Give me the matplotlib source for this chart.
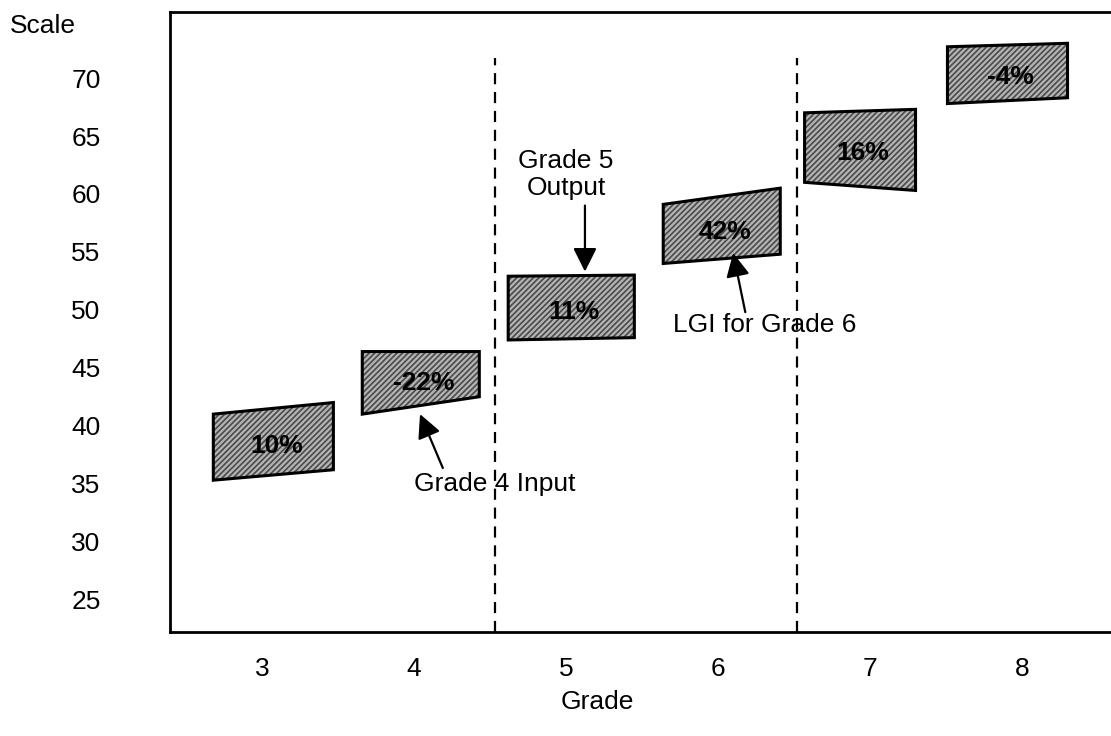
import matplotlib
matplotlib.use('Agg')
import matplotlib.pyplot as plt
from matplotlib.patches import Polygon

plt.rcParams['font.family'] = ['Liberation Sans', 'DejaVu Sans']
plt.rcParams['hatch.linewidth'] = 1.2

# value-added boxes: one per grade, corners on the left and right edges
grades = [3, 4, 5, 6, 7, 8]
x_left = [2.68, 3.66, 4.62, 5.64, 6.57, 7.51]
x_right = [3.47, 4.43, 5.45, 6.41, 7.30, 8.30]
left_low = [35.3, 41.0, 47.4, 54.0, 61.0, 67.8]
left_high = [41.0, 46.4, 52.9, 59.1, 67.0, 72.7]
right_low = [36.2, 42.5, 47.6, 54.8, 60.3, 68.3]
right_high = [42.0, 46.4, 53.0, 60.5, 67.3, 73.0]
growth = ['10%', '-22%', '11%', '42%', '16%', '-4%']

y_ticks = [25, 30, 35, 40, 45, 50, 55, 60, 65, 70]
dividers = [4.53, 6.52]
divider_top = 71.7

fig = plt.figure(figsize=(11.11, 7.36), dpi=100)
ax = fig.add_axes([170 / 1111, 1 - 632 / 736, 1 - 170 / 1111, (632 - 12) / 736])
ax.set_xlim(2.395, 8.586)
ax.set_ylim(22.2, 75.7)

for i in range(len(grades)):
    pts = [(x_left[i], left_low[i]), (x_left[i], left_high[i]),
           (x_right[i], right_high[i]), (x_right[i], right_low[i])]
    ax.add_patch(Polygon(pts, closed=True, facecolor='#b4b4b4', edgecolor='#4a4a4a',
                         hatch='//////', lw=0, zorder=2))
    ax.add_patch(Polygon(pts, closed=True, fill=False, edgecolor='black', lw=2.2, zorder=3))
    cx = (x_left[i] + x_right[i]) / 2
    cy = (left_low[i] + left_high[i] + right_low[i] + right_high[i]) / 4
    ax.text(cx + 0.02, cy - 0.4, growth[i], ha='center', va='center', fontsize=19,
            fontweight='bold', zorder=4)

for d in dividers:
    ax.plot([d, d], [22.2, divider_top], color='black', lw=1.6,
            linestyle=(0, (5, 3.5)), zorder=1)

arrow = dict(arrowstyle='-|>', mutation_scale=36, color='black', lw=1.6,
             shrinkA=0, shrinkB=0)
ax.annotate('', xy=(5.125, 53.3), xytext=(5.125, 59.0), arrowprops=arrow, zorder=5)
ax.text(5.0, 61.65, 'Grade 5\nOutput', ha='center', va='center', fontsize=19,
        linespacing=1.15)
ax.annotate('', xy=(6.10, 54.9), xytext=(6.18, 49.8), arrowprops=arrow, zorder=5)
ax.text(6.31, 48.7, 'LGI for Grade 6', ha='center', va='center', fontsize=19)
ax.annotate('', xy=(4.04, 41.0), xytext=(4.19, 36.35), arrowprops=arrow, zorder=5)
ax.text(4.53, 35.0, 'Grade 4 Input', ha='center', va='center', fontsize=19)

ax.set_xticks(grades)
ax.set_xticklabels([str(g) for g in grades], fontsize=19)
ax.set_yticks(y_ticks)
ax.set_yticklabels([str(v) for v in y_ticks], fontsize=19)
ax.tick_params(axis='x', length=0, pad=18)
ax.tick_params(axis='y', length=0, pad=50)

for side in ['left', 'top', 'bottom']:
    ax.spines[side].set_linewidth(2)
ax.spines['right'].set_visible(False)

fig.text(10 / 1111, 1 - 26 / 736, 'Scale', ha='left', va='center', fontsize=19)
fig.text(597 / 1111, 1 - 702 / 736, 'Grade', ha='center', va='center', fontsize=19)

plt.savefig('out.png', dpi=100)
plt.close()
